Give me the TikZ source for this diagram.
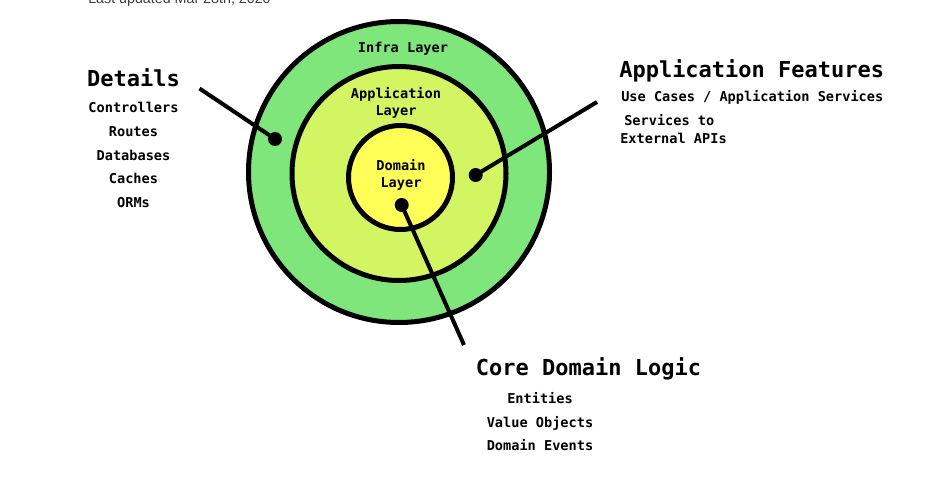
\documentclass[tikz,border=0pt]{standalone}
\usepackage{fontspec}
\setmonofont{DejaVu Sans Mono}
\setsansfont{Liberation Sans}
\usetikzlibrary{positioning}
\definecolor{infra}{HTML}{7EE67B}
\definecolor{application}{HTML}{D3F562}
\definecolor{domain}{HTML}{FFFF57}
\definecolor{stamp}{HTML}{3A3A4C}

\begin{document}
\begin{tikzpicture}[
        x=0.75pt, y=-0.75pt,
        node distance=7.3pt,
        ring/.style={circle, draw, line width=3.75pt, inner sep=0pt},
        layer/.style={align=center, font=\ttfamily\bfseries\fontsize{10.2}{13}\selectfont},
        title/.style={font=\ttfamily\bfseries\fontsize{16.5}{20}\selectfont,
                      inner sep=0pt, text height=12pt, text depth=4pt},
        entry/.style={font=\ttfamily\bfseries\fontsize{10.2}{13}\selectfont,
                      inner sep=0pt, text height=7.5pt, text depth=2.5pt},
        dot/.style={circle, fill, inner sep=0pt, minimum size=10.5pt},
        pointer/.style={line width=3pt},
    ]
        \useasboundingbox (0,0) rectangle (935,492);
        \clip (0,0) rectangle (935,492);

        % Page stamp, cut at the top
        \node[anchor=base west, inner sep=0pt, text=stamp,
              font=\sffamily\fontsize{10.7}{12}\selectfont] (stamp) at (88,4) {Last updated Mar 28th, 2020};

        % Layers
        \node[ring, fill=infra, minimum size=225.75pt] (infra) at (399,172) {};
        \node[ring, fill=application, minimum size=160.5pt] (app) at (399,173.5) {};
        \node[ring, fill=domain, minimum size=78pt] (dom) at (400.5,177.5) {};

        \node[layer, anchor=base] (infralbl) at (403,53) {Infra Layer};
        \node[layer] (applbl) at (396,103) {Application\\Layer};
        \node[layer] (domlbl) at (401,175) {Domain\\Layer};

        % Details
        \node[title, anchor=base] (details) at (133.5,87) {Details};
        \node[entry, below=7.5pt of details] (controllers) {Controllers};
        \node[entry, below=of controllers] (routes) {Routes};
        \node[entry, below=of routes] (databases) {Databases};
        \node[entry, below=of databases] (caches) {Caches};
        \node[entry, below=of caches] (orms) {ORMs};

        % Application features
        \node[title, anchor=base west] (features) at (619,78) {Application Features};
        \node[entry, anchor=base west] (usecases) at (621,102) {Use Cases / Application Services};
        \node[entry, anchor=north west, align=left, text height=, text depth=,
              font=\ttfamily\bfseries\fontsize{10.2}{13.5}\selectfont] (external) at (620,114.5)
              {\hspace{3pt}Services to\\External APIs};

        % Core domain logic
        \node[title, anchor=base] (core) at (588.5,375) {Core Domain Logic};
        \path (core.south) ++(-48.5,0) coordinate (corelist);
        \node[entry, below=9.5pt of corelist] (entities) {Entities};
        \node[entry, below=of entities] (values) {Value Objects};
        \node[entry, below=of values] (events) {Domain Events};

        % Pointers
        \node[dot] (infradot) at (275,139) {};
        \node[dot] (appdot) at (475.7,175) {};
        \node[dot] (domdot) at (401.7,205) {};
        \coordinate (detailsend) at (199.5,88.5);
        \coordinate (featuresend) at (597,102);
        \coordinate (coreend) at (464,345);

        \draw[pointer] (detailsend) -- (infradot.center);
        \draw[pointer] (featuresend) -- (appdot.center);
        \draw[pointer] (coreend) -- (domdot.center);

    \end{tikzpicture}
\end{document}
